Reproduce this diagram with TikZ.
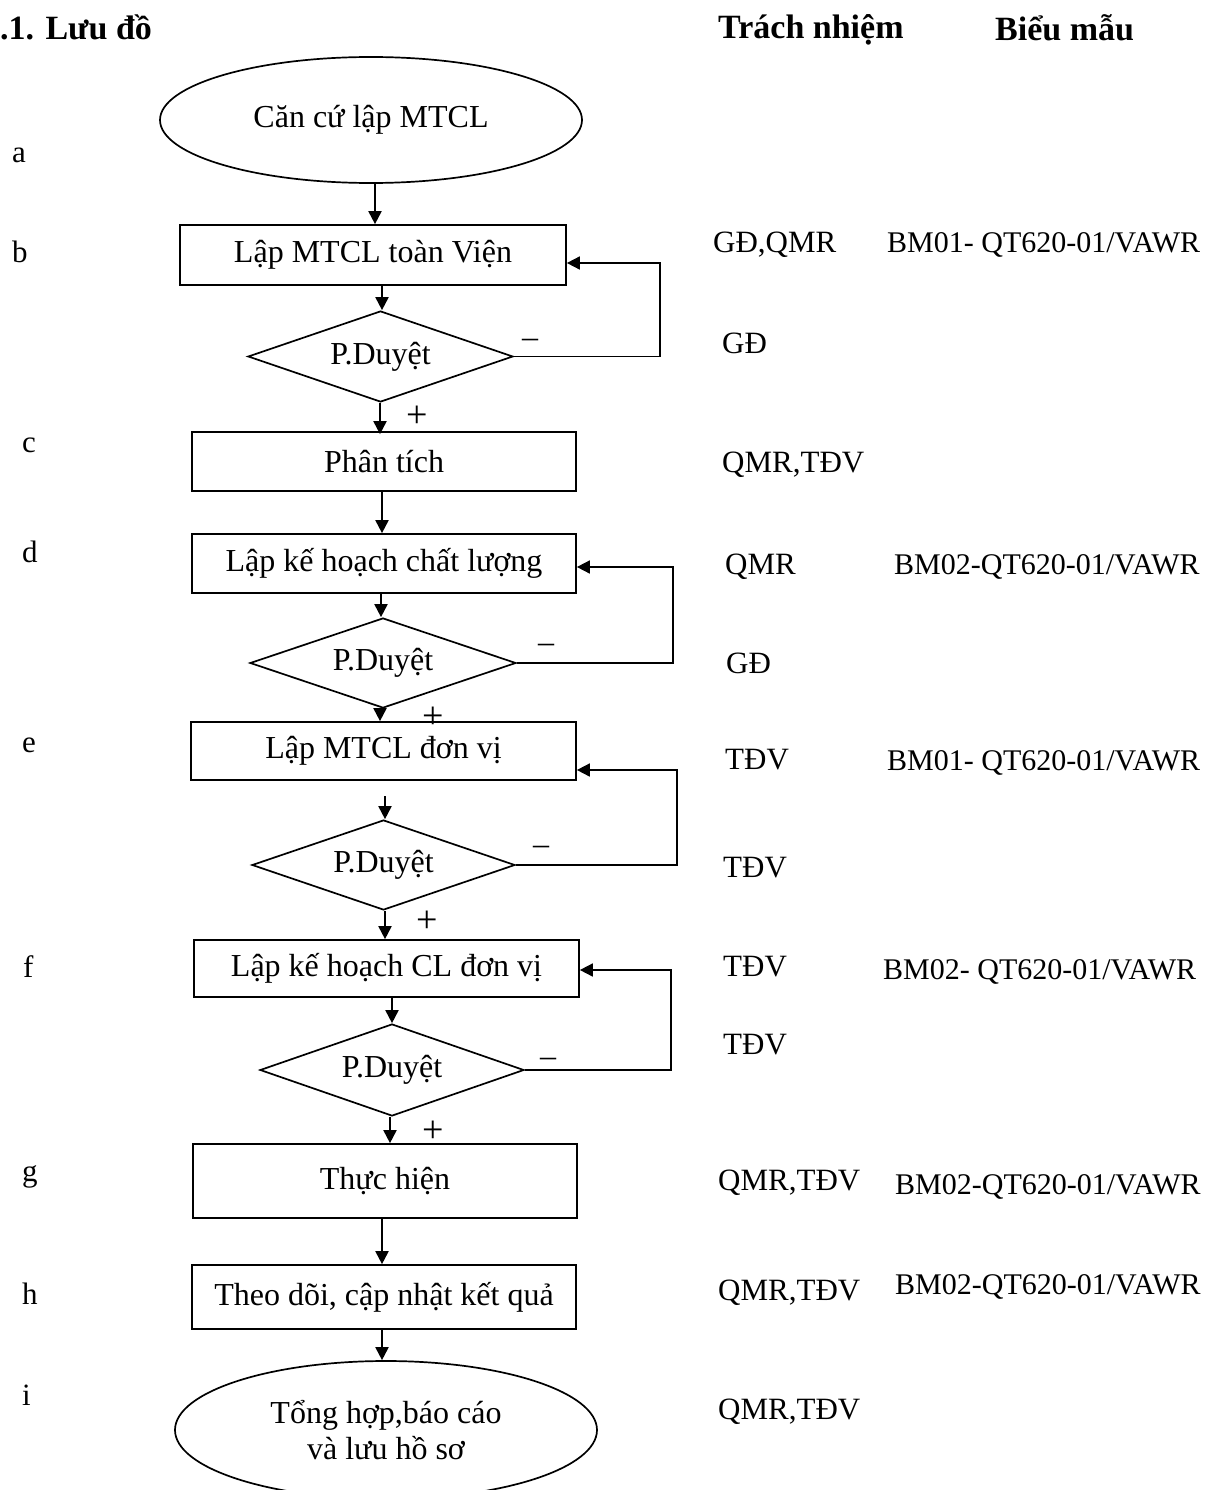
\documentclass[tikz,border=0pt]{standalone}
\usepackage{fontspec}
\setmainfont{Liberation Serif}
\usetikzlibrary{arrows.meta,shapes.geometric}
\tikzset{
  txt/.style={font=\fontsize{32}{36}\selectfont, inner sep=0pt},
  sign/.style={font=\fontsize{38}{40}\selectfont, inner sep=0pt},
  rtxt/.style={font=\fontsize{31}{35}\selectfont, inner sep=0pt, anchor=west},
  ftxt/.style={font=\fontsize{30}{35}\selectfont, inner sep=0pt, anchor=west},
  hdr/.style={font=\fontsize{34}{38}\selectfont\bfseries, inner sep=0pt, anchor=west},
  lbl/.style={rtxt},
  stepbox/.style={txt, draw, line width=1.7pt, rectangle},
  termin/.style={txt, draw, line width=1.7pt, ellipse, align=center},
  decide/.style={txt, draw, line width=1.7pt, diamond, aspect=2.9},
  arr/.style={line width=1.9pt, -{Triangle[length=13pt,width=13pt]}},
  fb/.style={line width=1.7pt, -{Triangle[length=13pt,width=13pt]}},
}
\begin{document}
\begin{tikzpicture}[x=1pt,y=-1pt]
\useasboundingbox (0,0) rectangle (1219,1490);
\clip (0,0) rectangle (1219,1490);
% headers
\node[hdr] (title) at (0,27) {.1. Lưu đồ};
\node[hdr] (hresp) at (718,30) {Trách nhiệm};
\node[hdr] (hform) at (995,28) {Biểu mẫu};
% flow nodes
\node[termin, minimum width=422pt, minimum height=126pt] (a) at (371,120) {\raisebox{5pt}{Căn cứ lập MTCL}};
\node[stepbox, minimum width=386pt, minimum height=60pt] (b) at (373,255) {Lập MTCL toàn Viện};
\node[decide, minimum width=265pt, minimum height=91pt] (d1) at (380.5,356.5) {\raisebox{-5pt}{P.Duyệt}};
\node[stepbox, minimum width=384pt, minimum height=59pt] (c) at (384,461.5) {Phân tích};
\node[stepbox, minimum width=384pt, minimum height=59pt] (d) at (384,563.5) {Lập kế hoạch chất lượng};
\node[decide, minimum width=266pt, minimum height=90pt] (d2) at (383,663) {\raisebox{-2pt}{P.Duyệt}};
\node[stepbox, minimum width=385pt, minimum height=58pt] (e) at (383.5,751) {\raisebox{3pt}{Lập MTCL đơn vị}};
\node[decide, minimum width=263pt, minimum height=90pt] (d3) at (383.5,865) {\raisebox{-2pt}{P.Duyệt}};
\node[stepbox, minimum width=385pt, minimum height=57pt] (f) at (386.5,968.5) {Lập kế hoạch CL đơn vị};
\node[decide, minimum width=264pt, minimum height=92pt] (d4) at (392,1070) {\raisebox{-3pt}{P.Duyệt}};
\node[stepbox, minimum width=384pt, minimum height=74pt] (g) at (385,1181) {\raisebox{6pt}{Thực hiện}};
\node[stepbox, minimum width=384pt, minimum height=64pt] (h) at (384,1297) {\raisebox{3pt}{Theo dõi, cập nhật kết quả}};
\node[termin, minimum width=422pt, minimum height=138pt] (i) at (386,1430) {Tổng hợp,báo cáo\\và lưu hồ sơ};
% x positions of the down arrows
\coordinate (xa) at (375,0);
\coordinate (xb) at (382,0);
\coordinate (xc) at (380,0);
\coordinate (xd) at (381,0);
\coordinate (xe) at (385,0);
\coordinate (xf) at (392,0);
\coordinate (xg) at (390,0);
\coordinate (eb) at (385,796);
% down arrows
\draw[arr] (xa |- a.south) -- (xa |- b.north);
\draw[arr] (xb |- b.south) -- (xb |- d1.north);
\draw[arr] (xc |- d1.south) -- ([yshift=-3pt]xc |- c.north);
\draw[arr] (xb |- c.south) -- (xb |- d.north);
\draw[arr] (xd |- d.south) -- (xd |- d2.north);
\draw[arr] (xc |- d2.south) -- (xc |- e.north);
\draw[arr] (eb) -- (xe |- d3.north);
\draw[arr] (xe |- d3.south) -- (xe |- f.north);
\draw[arr] (xf |- f.south) -- (xf |- d4.north);
\draw[arr] (xg |- d4.south) -- (xg |- g.north);
\draw[arr] (xb |- g.south) -- (xb |- h.north);
\draw[arr] (xb |- h.south) -- (xb |- i.north);
% feedback loops
\coordinate (fb1) at (660,263);
\coordinate (fb2) at (673,567);
\coordinate (fb3) at (677,770);
\coordinate (fb4) at (671,970);
\draw[fb] (d1.east) -| (fb1) -- (fb1 -| b.east);
\draw[fb] (d2.east) -| (fb2) -- (fb2 -| d.east);
\draw[fb] (d3.east) -| (fb3) -- (fb3 -| e.east);
\draw[fb] (d4.east) -| (fb4) -- (fb4 -| f.east);
% minus and plus labels
\node[txt] (m1) at (530,343) {–};
\node[txt] (m2) at (546,648) {–};
\node[txt] (m3) at (541,850) {–};
\node[txt] (m4) at (548,1062) {–};
\node[sign] (p1) at (417,417) {+};
\node[sign] (p2) at (433,718) {+};
\node[sign] (p3) at (427,922) {+};
\node[sign] (p4) at (433,1132) {+};
% step letters
\node[lbl] (la) at (12,155) {a};
\node[lbl] (lb) at (12,252) {b};
\node[lbl] (lc) at (22,445) {c};
\node[lbl] (ld) at (22,552) {d};
\node[lbl] (le) at (22,745) {e};
\node[lbl] (lf) at (23,967) {f};
\node[lbl] (lg) at (22,1177) {g};
\node[lbl] (lh) at (22,1294) {h};
\node[lbl] (li) at (22,1395) {i};
% responsibilities
\node[rtxt] (r1) at (713,245) {GĐ,QMR};
\node[rtxt] (r2) at (722,343) {GĐ};
\node[rtxt] (r3) at (722,465) {QMR,TĐV};
\node[rtxt] (r4) at (725,567) {QMR};
\node[rtxt] (r5) at (726,663) {GĐ};
\node[rtxt] (r6) at (725,760) {TĐV};
\node[rtxt] (r7) at (723,868) {TĐV};
\node[rtxt] (r8) at (723,967) {TĐV};
\node[rtxt] (r9) at (723,1045) {TĐV};
\node[rtxt] (r10) at (718,1183) {QMR,TĐV};
\node[rtxt] (r11) at (718,1293) {QMR,TĐV};
\node[rtxt] (r12) at (718,1412) {QMR,TĐV};
% forms
\node[ftxt] (f1) at (887,245) {BM01- QT620-01/VAWR};
\node[ftxt] (f2) at (894,567) {BM02-QT620-01/VAWR};
\node[ftxt] (f3) at (887,763) {BM01- QT620-01/VAWR};
\node[ftxt] (f4) at (883,972) {BM02- QT620-01/VAWR};
\node[ftxt] (f5) at (895,1187) {BM02-QT620-01/VAWR};
\node[ftxt] (f6) at (895,1287) {BM02-QT620-01/VAWR};
\end{tikzpicture}
\end{document}
